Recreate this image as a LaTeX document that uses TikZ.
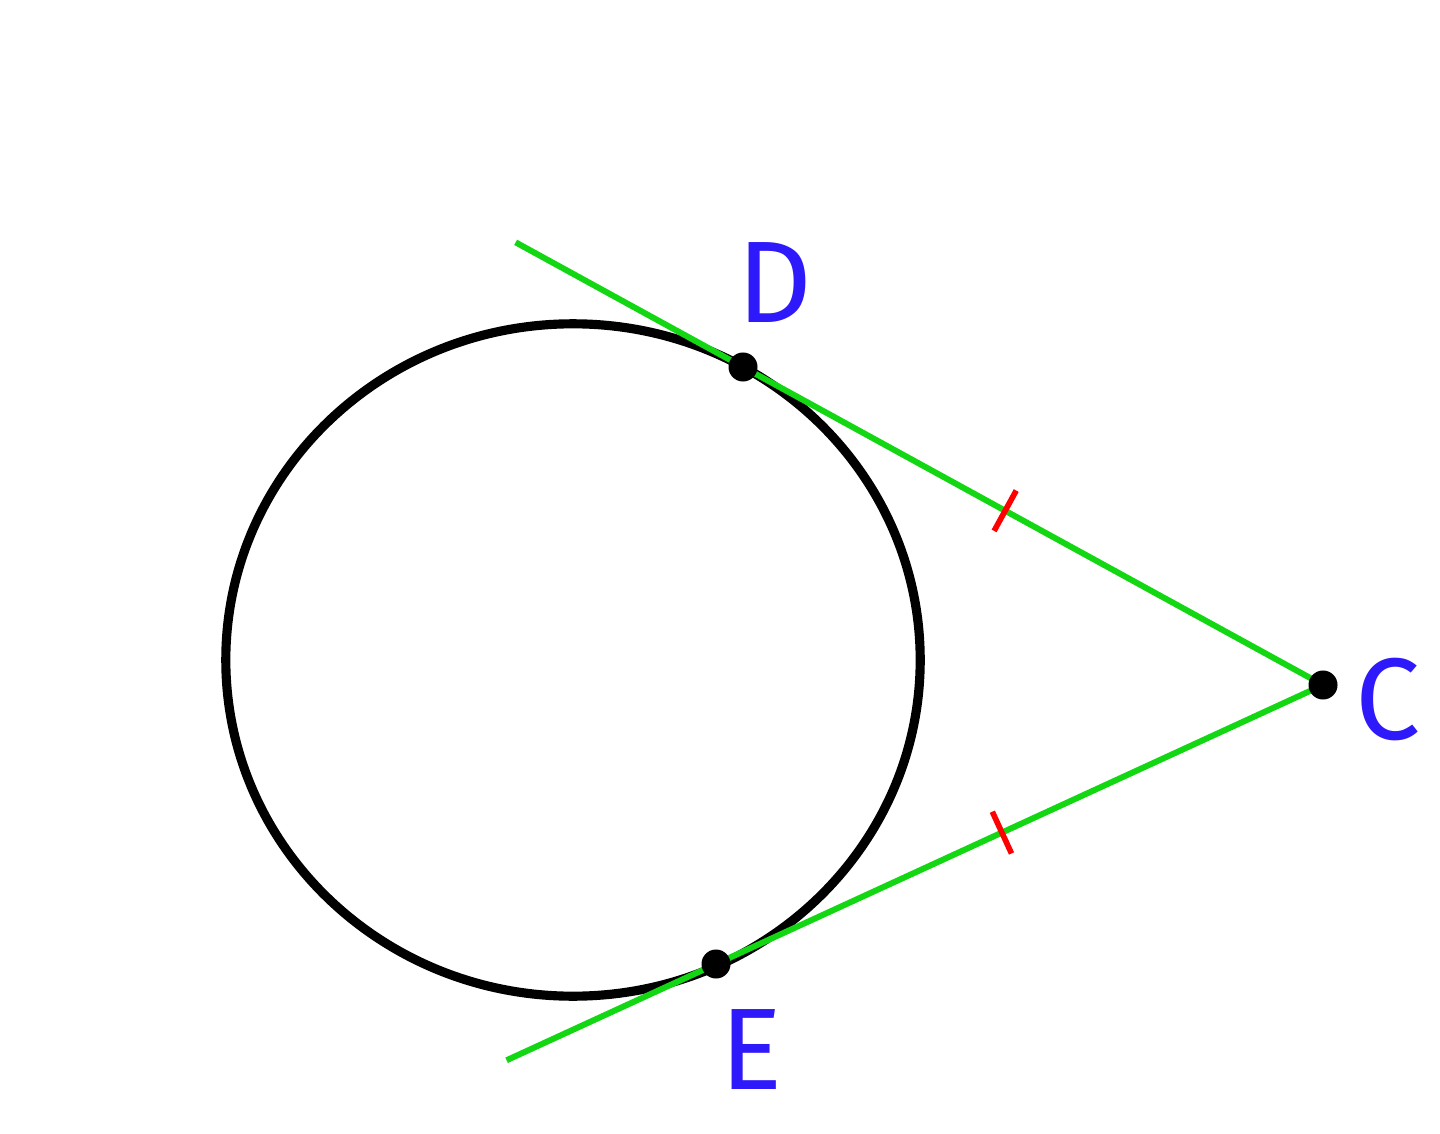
\documentclass[tikz,border=0pt]{standalone}
\usepackage{fontspec}
\setsansfont{Fira Sans}
\usetikzlibrary{calc,positioning}
\definecolor{ptblue}{RGB}{45,25,250}
\definecolor{tangreen}{RGB}{20,215,20}
\tikzset{
  pt/.style      = {circle, fill=black, inner sep=0pt, minimum size=0.29cm},
  ptlabel/.style = {text=ptblue, font=\sffamily\fontsize{33}{33}\selectfont, inner sep=0pt},
  tangent/.style = {draw=tangreen, line width=1.7pt},
  eqtick/.style  = {draw=red, line width=1.6pt}
}
\begin{document}
\begin{tikzpicture}[x=0.01cm,y=-0.01cm]
\useasboundingbox (0,0) rectangle (1440,1134);
% circle and points of tangency
\draw[line width=2.6pt] (573,660) ellipse [x radius=3.47cm, y radius=3.36cm];
\coordinate (C) at (1323,685);
\coordinate (D) at (743,367);
\coordinate (E) at (716,964);
\coordinate (Dend) at ($(C)!1.392!(D)$);
\coordinate (Eend) at ($(C)!1.345!(E)$);
% tangent segments
\draw[tangent] (Dend) -- (C) -- (Eend);
% congruence marks
\coordinate (T1) at ($(D)!0.452!(C)$);
\coordinate (T2) at ($(E)!0.471!(C)$);
\draw[eqtick] ($(T1)!0.23cm!90:(C)$) -- ($(T1)!0.23cm!-90:(C)$);
\draw[eqtick] ($(T2)!0.23cm!90:(C)$) -- ($(T2)!0.23cm!-90:(C)$);
% points
\node[pt] (Dpt) at (D) {};
\node[pt] (Ept) at (E) {};
\node[pt] (Cpt) at (C) {};
\node[ptlabel] (Dlab) at (775,283) {D};
\node[ptlabel] (Clab) at (1388,700) {C};
\node[ptlabel] (Elab) at (752,1050) {E};
\end{tikzpicture}
\end{document}
